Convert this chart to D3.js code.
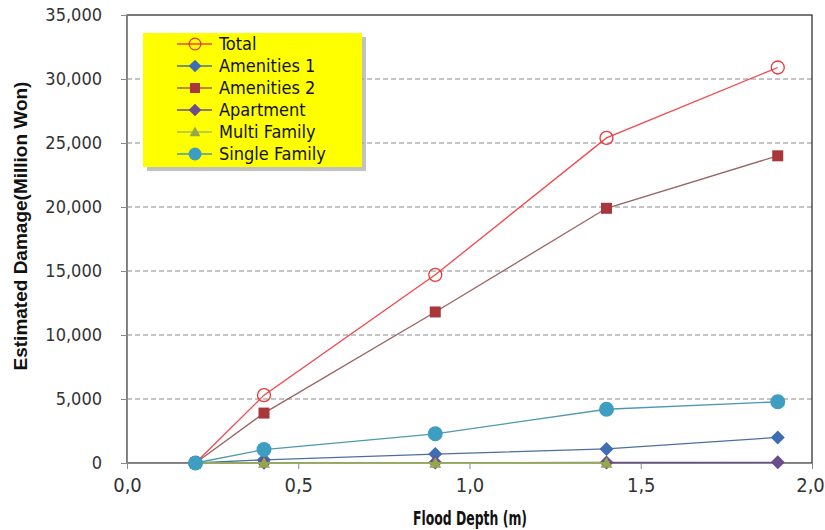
<!DOCTYPE html>
<html>
<head>
<meta charset="utf-8">
<script src="https://cdn.jsdelivr.net/npm/d3@7/dist/d3.min.js"></script>
<style>
  html, body { margin: 0; padding: 0; background: #fff; }
  svg { display: block; }
</style>
</head>
<body>
<div id="chart"></div>
<script>
// 数据
const depths = [0.2, 0.4, 0.9, 1.4, 1.9];
const total = [0, 5300, 14700, 25400, 30900];
const amenities1 = [0, 250, 700, 1100, 2000];
const amenities2 = [0, 3900, 11800, 19900, 24000];
const apartment = [0, 20, 30, 40, 50];
const multiFamily = [0, 0, 0, 0, null];
const singleFamily = [0, 1050, 2280, 4200, 4780];
const yTicks = [0, 5000, 10000, 15000, 20000, 25000, 30000, 35000];
const xTicks = [0, 0.5, 1.0, 1.5, 2.0];

const series = [
    { name: 'Total', values: total, line: '#f2474c', marker: 'circle-open', color: '#e53a3a', size: 6.5 },
    { name: 'Amenities 1', values: amenities1, line: '#4d6f9e', marker: 'diamond', color: '#3f6db5', size: 7 },
    { name: 'Amenities 2', values: amenities2, line: '#9a6363', marker: 'square', color: '#a8363b', size: 5.5 },
    { name: 'Apartment', values: apartment, line: '#6a5189', marker: 'diamond', color: '#6b4c8d', size: 7 },
    { name: 'Multi Family', values: multiFamily, line: '#a3c25a', marker: 'triangle', color: '#93a74c', size: 6 },
    { name: 'Single Family', values: singleFamily, line: '#4f98b1', marker: 'circle', color: '#3d9ec2', size: 7.5 }
];

const W = 825, H = 530;
const plot = { left: 127, right: 812, top: 15, bottom: 463 };
const labelFont = '"DejaVu Sans Condensed", "DejaVu Sans", sans-serif';

const svg = d3.select('#chart').append('svg')
    .attr('width', W).attr('height', H);

const x = d3.scaleLinear().domain([0, 2]).range([plot.left, plot.right]);
const y = d3.scaleLinear().domain([0, 35000]).range([plot.bottom, plot.top]);

// 网格线
svg.append('g')
    .selectAll('line')
    .data(yTicks.filter(d => d > 0 && d < 35000))
    .join('line')
    .attr('x1', plot.left).attr('x2', plot.right)
    .attr('y1', d => y(d)).attr('y2', d => y(d))
    .attr('stroke', '#8a8a8a')
    .attr('stroke-width', 1)
    .attr('stroke-dasharray', '5,3');

// 绘图区边框
svg.append('rect')
    .attr('x', plot.left).attr('y', plot.top)
    .attr('width', plot.right - plot.left)
    .attr('height', plot.bottom - plot.top)
    .attr('fill', 'none')
    .attr('stroke', '#222')
    .attr('stroke-width', 1.2);

// 坐标轴
const yAxis = svg.append('g')
    .attr('transform', `translate(${plot.left},0)`)
    .call(d3.axisLeft(y).tickValues(yTicks).tickSize(6).tickPadding(19)
        .tickFormat(d3.format(',')));
const xAxis = svg.append('g')
    .attr('transform', `translate(0,${plot.bottom})`)
    .call(d3.axisBottom(x).tickValues(xTicks).tickSize(6).tickPadding(9)
        .tickFormat(d => d3.format('.1f')(d).replace('.', ',')));

yAxis.select('.domain').attr('stroke', '#8a8a8a');
xAxis.select('.domain').attr('stroke', '#8a8a8a');
svg.selectAll('.tick line').attr('stroke', '#8a8a8a');
yAxis.selectAll('.tick text')
    .attr('font-family', labelFont)
    .attr('font-size', 18)
    .attr('fill', '#333');
xAxis.selectAll('.tick text')
    .attr('font-family', labelFont)
    .attr('font-size', 20)
    .attr('fill', '#333')
    .attr('dx', d => d === 2 ? -2 : 0);

// 轴标题
svg.append('text')
    .attr('transform', `translate(27,226) rotate(-90)`)
    .attr('text-anchor', 'middle')
    .attr('font-family', 'Liberation Sans, Arial, sans-serif')
    .attr('font-weight', 'bold')
    .attr('font-size', 19)
    .attr('fill', '#111')
    .text('Estimated Damage(Million Won)');

svg.append('text')
    .attr('x', 470).attr('y', 525)
    .attr('text-anchor', 'middle')
    .attr('font-family', labelFont)
    .attr('font-weight', 'bold')
    .attr('font-size', 19)
    .attr('textLength', 114)
    .attr('lengthAdjust', 'spacingAndGlyphs')
    .attr('fill', '#111')
    .text('Flood Depth (m)');

// 标记绘制
function drawMarker(g, type, color, size) {
    if (type === 'circle-open') {
        g.append('circle').attr('r', size)
            .attr('fill', 'none').attr('stroke', color).attr('stroke-width', 1.3);
    } else if (type === 'circle') {
        g.append('circle').attr('r', size).attr('fill', color);
    } else if (type === 'diamond') {
        g.append('path').attr('d', `M0,${-size}L${size},0L0,${size}L${-size},0Z`).attr('fill', color);
    } else if (type === 'square') {
        g.append('rect').attr('x', -size).attr('y', -size)
            .attr('width', size * 2).attr('height', size * 2).attr('fill', color);
    } else if (type === 'triangle') {
        g.append('path').attr('d', `M0,${-size}L${size},${size * 0.8}L${-size},${size * 0.8}Z`).attr('fill', color);
    }
}

const line = d3.line()
    .defined(d => d[1] != null)
    .x(d => x(d[0]))
    .y(d => y(d[1]));

series.forEach(s => {
    const pts = depths.map((d, i) => [d, s.values[i]]);
    const g = svg.append('g');
    g.append('path')
        .datum(pts)
        .attr('d', line)
        .attr('fill', 'none')
        .attr('stroke', s.line)
        .attr('stroke-width', 1.3);
    pts.filter(p => p[1] != null).forEach(p => {
        const m = g.append('g').attr('transform', `translate(${x(p[0])},${y(p[1])})`);
        drawMarker(m, s.marker, s.color, s.size);
    });
});

// 图例
const legend = svg.append('g').attr('transform', 'translate(143,33)');
legend.append('rect')
    .attr('x', 4).attr('y', 4)
    .attr('width', 219).attr('height', 134)
    .attr('fill', '#9a9a9a').attr('opacity', 0.6);
legend.append('rect')
    .attr('width', 219).attr('height', 134)
    .attr('fill', '#ffff00');

series.forEach((s, i) => {
    const row = legend.append('g').attr('transform', `translate(0,${11 + i * 22})`);
    row.append('line')
        .attr('x1', 34).attr('x2', 69)
        .attr('stroke', s.line).attr('stroke-width', 1.5);
    const m = row.append('g').attr('transform', 'translate(52,0)');
    drawMarker(m, s.marker, s.color, s.marker === 'circle' ? 6.5 : (s.marker === 'square' ? 5 : s.size * 0.9));
    row.append('text')
        .attr('x', 76).attr('y', 6)
        .attr('font-family', labelFont)
        .attr('font-size', 18)
        .attr('fill', '#111')
        .text(s.name);
});
</script>
</body>
</html>
